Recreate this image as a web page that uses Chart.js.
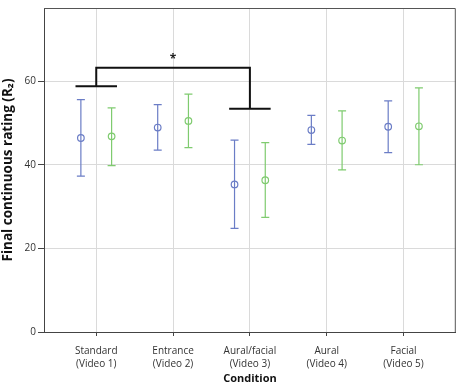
<!DOCTYPE html>
<html>
<head>
<meta charset="utf-8">
<script src="https://cdn.jsdelivr.net/npm/chart.js@4/dist/chart.umd.min.js"></script>
<style>
  html, body { margin: 0; padding: 0; background: #fff; }
  #wrap { width: 461px; height: 385px; }
</style>
</head>
<body>
<div id="wrap"><canvas id="chart"></canvas></div>
<script>
// Données
var conditions = [['Standard', '(Video 1)'], ['Entrance', '(Video 2)'], ['Aural/facial', '(Video 3)'], ['Aural', '(Video 4)'], ['Facial', '(Video 5)']];
var blueMean  = [46.4, 48.9, 35.3, 48.3, 49.1];
var blueLow   = [37.3, 43.5, 24.8, 44.9, 42.9];
var blueHigh  = [55.6, 54.4, 45.9, 51.8, 55.3];
var greenMean = [46.8, 50.5, 36.3, 45.8, 49.2];
var greenLow  = [39.8, 44.1, 27.4, 38.8, 40.0];
var greenHigh = [53.6, 56.9, 45.3, 52.9, 58.4];
var yTicks = [0, 20, 40, 60];

// Crochet de significativité (Video 1 vs Video 3)
var sigFrom = 0, sigTo = 2;
var sigLeftY = 58.8, sigTopY = 63.2, sigRightY = 53.4, sigStarY = 65.5;

var blueColor = '#6b7dc6';
var greenColor = '#7fcb6f';
var offset = 0.2;

function points(means, shift) {
    return means.map(function (m, i) { return { x: i + shift, y: m }; });
}

// Barres d'erreur + crochet + cadre
var extras = {
    id: 'extras',
    afterDatasetsDraw: function (chart) {
        var ctx = chart.ctx;
        var xs = chart.scales.x, ys = chart.scales.y;
        var area = chart.chartArea;

        function bars(low, high, shift, color) {
            ctx.save();
            ctx.strokeStyle = color;
            ctx.lineWidth = 1.2;
            for (var i = 0; i < low.length; i++) {
                var px = xs.getPixelForValue(i + shift);
                var y1 = ys.getPixelForValue(low[i]);
                var y2 = ys.getPixelForValue(high[i]);
                ctx.beginPath();
                ctx.moveTo(px, y1); ctx.lineTo(px, y2);
                ctx.moveTo(px - 4, y1); ctx.lineTo(px + 4, y1);
                ctx.moveTo(px - 4, y2); ctx.lineTo(px + 4, y2);
                ctx.stroke();
            }
            ctx.restore();
        }
        bars(blueLow, blueHigh, -offset, blueColor);
        bars(greenLow, greenHigh, offset, greenColor);

        // crochet
        var half = 0.27;
        ctx.save();
        ctx.strokeStyle = '#111';
        ctx.lineWidth = 2;
        ctx.beginPath();
        ctx.moveTo(xs.getPixelForValue(sigFrom - half), ys.getPixelForValue(sigLeftY));
        ctx.lineTo(xs.getPixelForValue(sigFrom + half), ys.getPixelForValue(sigLeftY));
        ctx.moveTo(xs.getPixelForValue(sigFrom), ys.getPixelForValue(sigLeftY));
        ctx.lineTo(xs.getPixelForValue(sigFrom), ys.getPixelForValue(sigTopY));
        ctx.lineTo(xs.getPixelForValue(sigTo), ys.getPixelForValue(sigTopY));
        ctx.lineTo(xs.getPixelForValue(sigTo), ys.getPixelForValue(sigRightY));
        ctx.moveTo(xs.getPixelForValue(sigTo - half), ys.getPixelForValue(sigRightY));
        ctx.lineTo(xs.getPixelForValue(sigTo + half), ys.getPixelForValue(sigRightY));
        ctx.stroke();
        ctx.fillStyle = '#222';
        ctx.font = 'bold 12px "Open Sans"';
        ctx.textAlign = 'center';
        ctx.textBaseline = 'middle';
        ctx.fillText('*', xs.getPixelForValue((sigFrom + sigTo) / 2), ys.getPixelForValue(sigStarY) + 1);

        // cadre haut et droite
        ctx.strokeStyle = '#555';
        ctx.lineWidth = 1;
        ctx.beginPath();
        ctx.moveTo(area.left, area.top + 0.5);
        ctx.lineTo(area.right - 0.5, area.top + 0.5);
        ctx.lineTo(area.right - 0.5, area.bottom);
        ctx.stroke();
        ctx.restore();
    }
};

var chart = new Chart(document.getElementById('chart'), {
    type: 'scatter',
    data: {
        datasets: [{
            label: 'blue',
            data: points(blueMean, -offset),
            borderColor: blueColor,
            backgroundColor: 'rgba(0,0,0,0)',
            pointRadius: 3.3,
            borderWidth: 1.2
        }, {
            label: 'green',
            data: points(greenMean, offset),
            borderColor: greenColor,
            backgroundColor: 'rgba(0,0,0,0)',
            pointRadius: 3.3,
            borderWidth: 1.2
        }]
    },
    options: {
        responsive: true,
        maintainAspectRatio: false,
        animation: false,
        layout: { padding: { top: 2, right: 3, left: 0, bottom: 0 } },
        plugins: {
            legend: { display: false },
            tooltip: { enabled: false }
        },
        scales: {
            x: {
                type: 'linear',
                min: -0.68,
                max: 4.68,
                afterBuildTicks: function (scale) {
                    scale.ticks = conditions.map(function (c, i) { return { value: i }; });
                },
                afterFit: function (scale) { scale.height = 53; },
                grid: { color: '#dadada', lineWidth: 1, tickLength: 4, tickColor: '#444', tickWidth: 1 },
                border: { color: '#444', width: 1 },
                ticks: {
                    padding: 8,
                    color: '#333',
                    maxRotation: 0,
                    font: { family: 'Open Sans', size: 10, lineHeight: 1.35 },
                    callback: function (value) { return conditions[value]; }
                },
                title: {
                    display: true,
                    text: 'Condition',
                    color: '#111',
                    padding: 0,
                    font: { family: 'Open Sans', size: 11, weight: 'bold' }
                }
            },
            y: {
                min: 0,
                max: 77.5,
                afterBuildTicks: function (scale) {
                    scale.ticks = yTicks.map(function (v) { return { value: v }; });
                },
                afterFit: function (scale) { scale.width = 44; },
                grid: { color: '#dadada', lineWidth: 1, tickLength: 6, tickColor: '#444', tickWidth: 1 },
                border: { color: '#444', width: 1 },
                ticks: {
                    padding: 2,
                    color: '#333',
                    font: { family: 'Open Sans', size: 10 }
                },
                title: {
                    display: true,
                    text: 'Final continuous rating (R\u2082)',
                    color: '#111',
                    padding: 0,
                    font: { family: 'Open Sans', size: 13.5, weight: 'bold' }
                }
            }
        }
    },
    plugins: [extras]
});
</script>
</body>
</html>
